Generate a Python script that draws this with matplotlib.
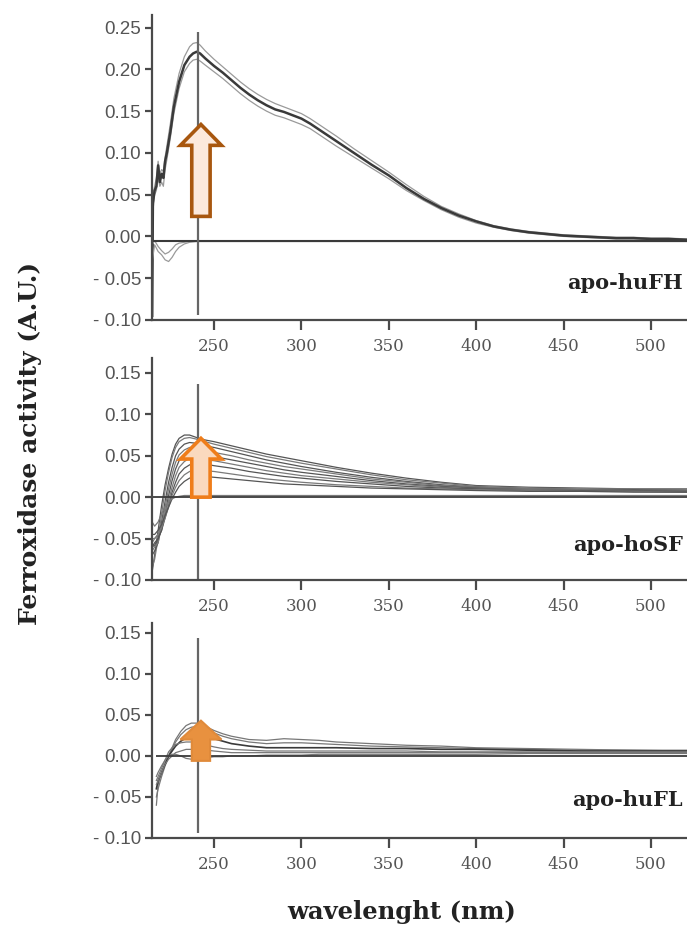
import matplotlib
matplotlib.use("Agg")
import matplotlib.pyplot as plt
from matplotlib.patches import FancyArrow

# ---------------- data ----------------
XLIM = (214.5, 520.6)
MARK_WL = 241

WL1 = [214.6, 215, 216, 217, 218, 219, 220, 221, 222, 223, 225, 227, 230, 233, 236, 238, 240, 242,
       245, 250, 255, 260, 265, 270, 275, 280, 285, 290, 295, 300, 305, 310, 320, 330, 340, 350,
       360, 370, 380, 390, 400, 410, 420, 430, 440, 450, 460, 470, 480, 490, 500, 510, 520.6]
huFH_main = [-0.095, 0.04, 0.055, 0.06, 0.085, 0.065, 0.075, 0.07, 0.09, 0.10, 0.125, 0.155, 0.185,
             0.205, 0.215, 0.219, 0.221, 0.219, 0.213, 0.204, 0.196, 0.187, 0.178, 0.170, 0.163,
             0.157, 0.152, 0.149, 0.145, 0.141, 0.135, 0.128, 0.114, 0.100, 0.086, 0.073, 0.058,
             0.045, 0.034, 0.025, 0.018, 0.012, 0.008, 0.005, 0.003, 0.001, 0.0, -0.001, -0.002,
             -0.002, -0.003, -0.003, -0.004]
huFH_upper = [-0.08, 0.05, 0.06, 0.07, 0.09, 0.075, 0.08, 0.078, 0.095, 0.108, 0.135, 0.165, 0.195,
              0.215, 0.227, 0.231, 0.232, 0.229, 0.222, 0.212, 0.203, 0.194, 0.185, 0.177, 0.170,
              0.164, 0.159, 0.155, 0.151, 0.147, 0.141, 0.134, 0.120, 0.105, 0.091, 0.077, 0.062,
              0.048, 0.036, 0.027, 0.019, 0.013, 0.009, 0.006, 0.004, 0.002, 0.001, 0.0, -0.001,
              -0.001, -0.002, -0.002, -0.003]
huFH_lower = [-0.10, 0.03, 0.05, 0.055, 0.07, 0.06, 0.065, 0.06, 0.08, 0.092, 0.118, 0.147, 0.177,
              0.197, 0.207, 0.211, 0.212, 0.210, 0.205, 0.197, 0.189, 0.180, 0.171, 0.163, 0.156,
              0.150, 0.145, 0.142, 0.138, 0.134, 0.129, 0.122, 0.108, 0.095, 0.082, 0.069, 0.055,
              0.043, 0.032, 0.023, 0.016, 0.011, 0.007, 0.004, 0.002, 0.0, -0.001, -0.002, -0.003,
              -0.003, -0.004, -0.004, -0.005]
WL1_base = [214.6, 216, 218, 220, 222, 224, 226, 228, 230, 233, 236, 240, 300, 400, 520.6]
huFH_base = [-0.006, -0.006, -0.006, -0.006, -0.006, -0.006, -0.006, -0.006, -0.006, -0.006,
             -0.006, -0.006, -0.006, -0.006, -0.006]
huFH_dip1 = [-0.03, -0.01, -0.018, -0.022, -0.028, -0.030, -0.025, -0.018, -0.013, -0.009,
             -0.007, -0.006, -0.006, -0.006, -0.006]
huFH_dip2 = [-0.01, -0.005, -0.012, -0.017, -0.021, -0.019, -0.015, -0.010, -0.008, -0.007,
             -0.006, -0.006, -0.006, -0.006, -0.006]

WL2 = [214.6, 216, 218, 220, 222, 224, 226, 228, 230, 233, 236, 240, 245, 250, 260, 270, 280, 290,
       300, 320, 340, 360, 380, 400, 430, 460, 490, 520.6]
hoSF = [
    [-0.09, -0.07, -0.04, -0.01, 0.015, 0.035, 0.052, 0.064, 0.071, 0.075, 0.075, 0.072, 0.069, 0.067,
     0.062, 0.057, 0.052, 0.048, 0.044, 0.036, 0.029, 0.023, 0.018, 0.014, 0.012, 0.011, 0.010, 0.010],
    [-0.085, -0.075, -0.05, -0.02, 0.008, 0.030, 0.048, 0.060, 0.067, 0.071, 0.072, 0.070, 0.067, 0.064,
     0.059, 0.054, 0.049, 0.045, 0.041, 0.034, 0.027, 0.021, 0.017, 0.013, 0.011, 0.010, 0.010, 0.009],
    [-0.07, -0.065, -0.055, -0.03, -0.005, 0.018, 0.036, 0.050, 0.058, 0.064, 0.066, 0.065, 0.062, 0.060,
     0.055, 0.050, 0.045, 0.041, 0.037, 0.030, 0.024, 0.019, 0.015, 0.012, 0.010, 0.009, 0.009, 0.008],
    [-0.065, -0.06, -0.055, -0.035, -0.012, 0.010, 0.028, 0.042, 0.051, 0.057, 0.060, 0.059, 0.057, 0.054,
     0.050, 0.045, 0.041, 0.037, 0.034, 0.028, 0.022, 0.018, 0.014, 0.012, 0.010, 0.009, 0.008, 0.008],
    [-0.06, -0.055, -0.05, -0.04, -0.02, 0.002, 0.020, 0.034, 0.044, 0.050, 0.053, 0.053, 0.051, 0.049,
     0.045, 0.041, 0.037, 0.033, 0.030, 0.025, 0.020, 0.016, 0.013, 0.011, 0.009, 0.008, 0.008, 0.007],
    [-0.055, -0.05, -0.045, -0.035, -0.02, -0.004, 0.012, 0.026, 0.036, 0.043, 0.047, 0.047, 0.045, 0.044,
     0.040, 0.036, 0.032, 0.029, 0.026, 0.022, 0.018, 0.015, 0.012, 0.010, 0.009, 0.008, 0.007, 0.007],
    [-0.06, -0.058, -0.05, -0.04, -0.025, -0.01, 0.006, 0.018, 0.028, 0.035, 0.039, 0.041, 0.040, 0.038,
     0.035, 0.031, 0.028, 0.025, 0.023, 0.019, 0.016, 0.013, 0.011, 0.010, 0.008, 0.008, 0.007, 0.007],
    [-0.05, -0.05, -0.045, -0.037, -0.025, -0.012, 0.002, 0.012, 0.020, 0.027, 0.031, 0.033, 0.032, 0.031,
     0.028, 0.025, 0.022, 0.020, 0.018, 0.015, 0.013, 0.011, 0.010, 0.009, 0.008, 0.007, 0.007, 0.006],
    [-0.045, -0.045, -0.04, -0.033, -0.022, -0.012, -0.002, 0.006, 0.013, 0.019, 0.023, 0.025, 0.025, 0.024,
     0.022, 0.020, 0.018, 0.016, 0.015, 0.013, 0.011, 0.010, 0.009, 0.008, 0.007, 0.007, 0.006, 0.006],
    [-0.03, -0.035, -0.03, -0.02, -0.012, -0.006, -0.002, 0.0, 0.001, 0.002, 0.002, 0.002, 0.002, 0.002,
     0.002, 0.002, 0.002, 0.002, 0.002, 0.002, 0.002, 0.002, 0.002, 0.002, 0.002, 0.002, 0.002, 0.002],
]

WL3 = [217, 218, 220, 222, 224, 226, 228, 231, 234, 237, 240, 243, 246, 250, 255, 260, 270, 280, 290,
       300, 310, 320, 340, 360, 380, 400, 430, 460, 490, 520.6]
huFL = [
    [-0.06, -0.035, -0.02, -0.01, 0.0, 0.01, 0.02, 0.03, 0.037, 0.040, 0.040, 0.038, 0.035, 0.031, 0.027,
     0.024, 0.020, 0.019, 0.021, 0.020, 0.019, 0.017, 0.015, 0.013, 0.012, 0.010, 0.009, 0.008, 0.007, 0.007],
    [-0.05, -0.04, -0.025, -0.012, -0.002, 0.008, 0.017, 0.026, 0.032, 0.035, 0.036, 0.034, 0.031, 0.028,
     0.024, 0.021, 0.017, 0.015, 0.016, 0.016, 0.015, 0.014, 0.012, 0.011, 0.010, 0.009, 0.008, 0.007, 0.007, 0.006],
    [-0.04, -0.03, -0.02, -0.01, 0.0, 0.006, 0.012, 0.018, 0.022, 0.025, 0.027, 0.026, 0.024, 0.021, 0.018,
     0.015, 0.012, 0.010, 0.010, 0.010, 0.010, 0.010, 0.009, 0.009, 0.008, 0.008, 0.007, 0.006, 0.006, 0.006],
    [-0.03, -0.025, -0.015, -0.005, 0.005, 0.01, 0.014, 0.016, 0.017, 0.017, 0.016, 0.015, 0.013, 0.011, 0.009,
     0.008, 0.007, 0.006, 0.006, 0.006, 0.006, 0.006, 0.006, 0.006, 0.005, 0.005, 0.005, 0.005, 0.005, 0.005],
    [-0.035, -0.03, -0.02, -0.01, -0.004, 0.0, 0.004, 0.006, 0.008, 0.008, 0.008, 0.007, 0.007, 0.006, 0.005,
     0.004, 0.004, 0.004, 0.004, 0.004, 0.004, 0.004, 0.004, 0.004, 0.004, 0.004, 0.004, 0.004, 0.004, 0.004],
    [-0.025, -0.02, -0.012, -0.005, 0.0, 0.002, 0.002, 0.0, -0.003, -0.004, -0.003, -0.002, -0.002, -0.001,
     -0.001, 0.0, 0.0, 0.001, 0.001, 0.001, 0.002, 0.002, 0.002, 0.002, 0.002, 0.002, 0.003, 0.003, 0.003, 0.003],
]

XTICKS = [250, 300, 350, 400, 450, 500]
YTICKS1 = [-0.10, -0.05, 0.00, 0.05, 0.10, 0.15, 0.20, 0.25]
YTICKS23 = [-0.10, -0.05, 0.00, 0.05, 0.10, 0.15]
PANEL_LABELS = ["apo-huFH", "apo-hoSF", "apo-huFL"]

# ---------------- figure ----------------
W, H = 687, 940
fig = plt.figure(figsize=(W / 100, H / 100), dpi=100)

def rect(top_px, bottom_px, left_px=152, right_px=687):
    return [left_px / W, 1 - bottom_px / H, (right_px - left_px) / W, (bottom_px - top_px) / H]

ax1 = fig.add_axes(rect(15, 320))
ax2 = fig.add_axes(rect(358, 580))
ax3 = fig.add_axes(rect(623, 838))

SPINE = "#4a4a4a"
TICKC = "#555555"

def ylab(v):
    s = f"{abs(v):.2f}"
    return ("- " + s) if v < -1e-9 else s

def style(ax, yticks, ylim):
    ax.set_xlim(*XLIM)
    ax.set_ylim(*ylim)
    for s in ["top", "right"]:
        ax.spines[s].set_visible(False)
    for s in ["left", "bottom"]:
        ax.spines[s].set_color(SPINE)
        ax.spines[s].set_linewidth(1.6)
    ax.set_xticks(XTICKS)
    ax.set_xticklabels([str(t) for t in XTICKS], family="DejaVu Serif", fontsize=12, color=TICKC)
    ax.set_yticks(yticks)
    ax.set_yticklabels([ylab(v) for v in yticks], family="Liberation Sans", fontsize=13.5, color=TICKC)
    ax.tick_params(axis="x", length=7, width=1.6, color=SPINE, pad=6)
    ax.tick_params(axis="y", length=5, width=1.6, color=SPINE, pad=3)
    ax.patch.set_alpha(0)

style(ax1, YTICKS1, (-0.10, 0.265))
style(ax2, YTICKS23, (-0.10, 0.168))
style(ax3, YTICKS23, (-0.10, 0.162))

LIGHT = "#9a9a9a"
DARK = "#3a3a3a"

# panel 1
ax1.plot(WL1, huFH_upper, color=LIGHT, lw=0.9)
ax1.plot(WL1, huFH_lower, color=LIGHT, lw=0.9)
ax1.plot(WL1, huFH_main, color=DARK, lw=1.8)
ax1.plot(WL1_base, huFH_dip1, color=LIGHT, lw=0.9)
ax1.plot(WL1_base, huFH_dip2, color=LIGHT, lw=0.9)
ax1.plot(WL1_base, huFH_base, color=DARK, lw=1.5)

# panel 2
for i, ys in enumerate(hoSF):
    ax2.plot(WL2, ys, color="#555555" if i % 2 == 0 else "#7a7a7a", lw=0.9)
ax2.axhline(0, color=DARK, lw=1.3)

# panel 3
for i, ys in enumerate(huFL):
    ax3.plot(WL3, ys, color=DARK if i == 2 else "#777777", lw=1.2 if i == 2 else 0.9)
ax3.hlines(0, WL3[0], XLIM[1], color=DARK, lw=1.3)

# vertical marker lines
ax1.vlines(MARK_WL, -0.094, 0.245, color="#666666", lw=1.6)
ax2.vlines(MARK_WL, -0.099, 0.137, color="#666666", lw=1.6)
ax3.vlines(MARK_WL, -0.094, 0.144, color="#666666", lw=1.6)

# arrows
def arrow(ax, y0, y1, hl, fc, ec, lw):
    a = FancyArrow(242.5, y0, 0, y1 - y0, width=10.5, head_width=23.5, head_length=hl,
                   length_includes_head=True, fc=fc, ec=ec, lw=lw, zorder=5)
    ax.add_patch(a)

arrow(ax1, 0.024, 0.134, 0.025, "#fce9dc", "#a8570f", 2.6)
arrow(ax2, 0.0, 0.071, 0.025, "#fad9be", "#ef7d1a", 2.6)
arrow(ax3, -0.006, 0.043, 0.023, "#e8913f", "#e08a3a", 1.5)

# panel labels
lab_y = [283, 545, 800]
for ax, lab, yp in zip([ax1, ax2, ax3], PANEL_LABELS, lab_y):
    fig.text(683 / W, 1 - yp / H, lab, ha="right", va="center", family="DejaVu Serif",
             fontweight="bold", fontsize=15, color="#222222")

fig.text(30 / W, 1 - 443 / H, "Ferroxidase activity (A.U.)", rotation=90, ha="center", va="center",
         family="DejaVu Serif", fontweight="bold", fontsize=18, color="#222222")
fig.text(402 / W, 1 - 912 / H, "wavelenght (nm)", ha="center", va="center",
         family="DejaVu Serif", fontweight="bold", fontsize=17.5, color="#222222")

fig.savefig("out.png", dpi=100)
